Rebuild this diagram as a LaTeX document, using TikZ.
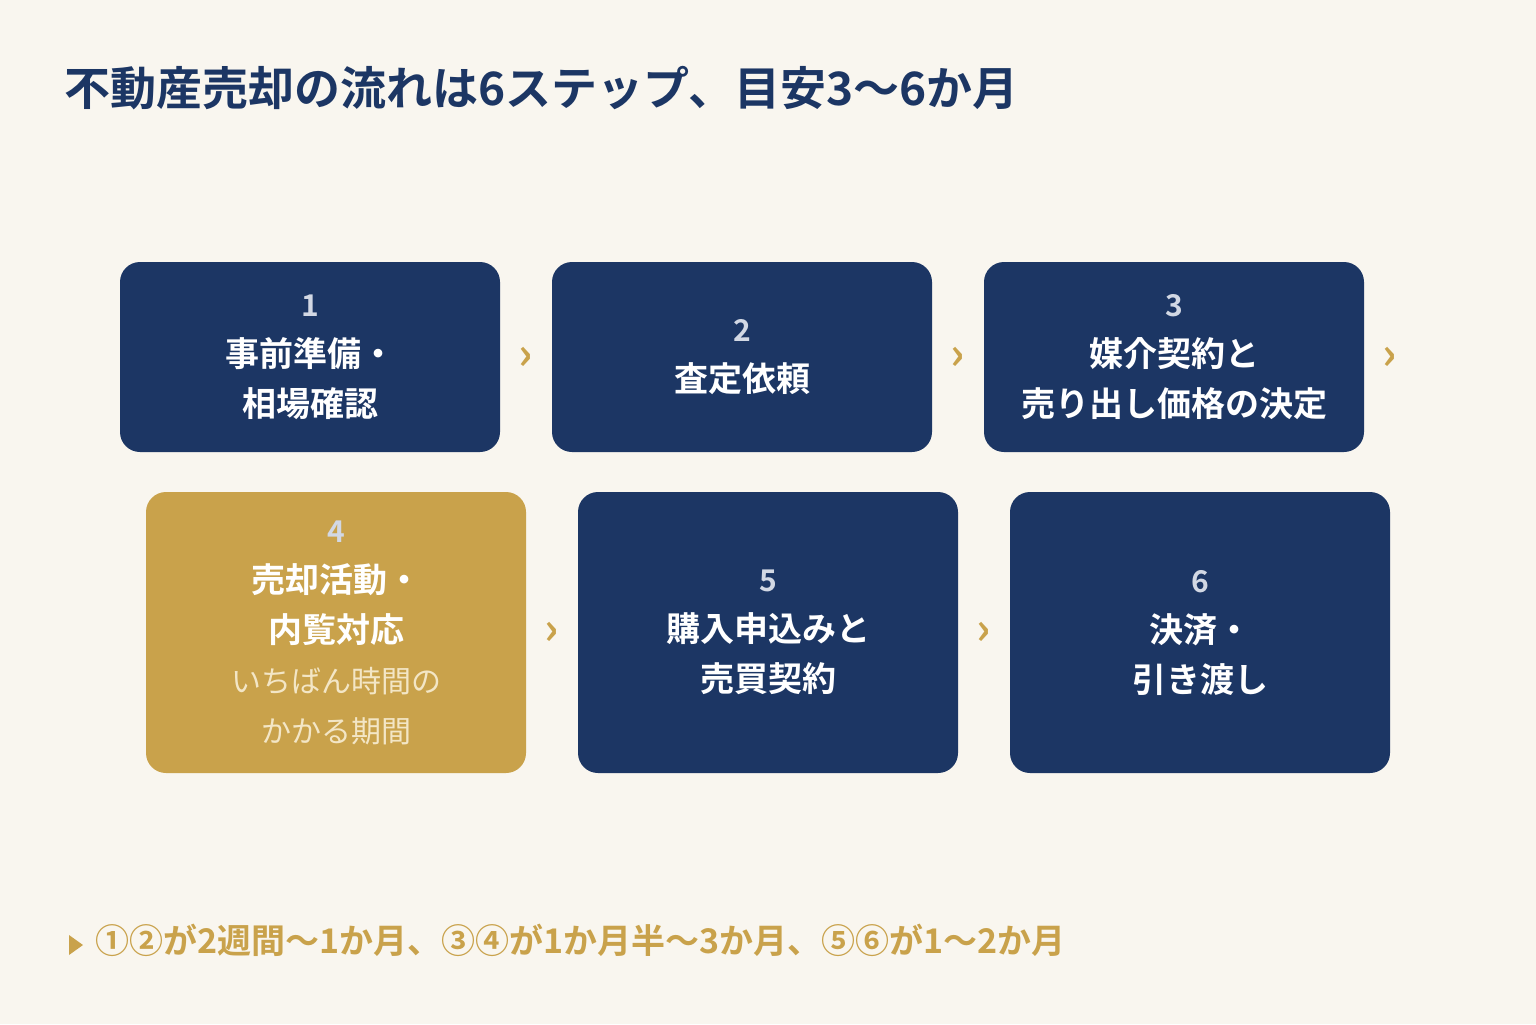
\documentclass[tikz,border=0pt]{standalone}
\usepackage{fontspec}
\setmainfont{Noto Sans CJK JP}[BoldFont={Noto Sans CJK JP Bold}]
\definecolor{navy}{HTML}{1C3664}
\definecolor{gold}{HTML}{C9A24B}
\definecolor{bg}{HTML}{F9F6EF}
\definecolor{num}{HTML}{D2D8E4}
\definecolor{sub}{HTML}{F3E6C6}
\begin{document}
\begin{tikzpicture}[x=0.5pt,y=-0.5pt,
  box/.style={rounded corners=10pt,minimum width=190pt,align=center,text=white,font=\bfseries\fontsize{17}{25}\selectfont,inner sep=0pt},
  chev/.style={text=gold,font=\bfseries\fontsize{22}{22}\selectfont,inner sep=0pt}]
\fill[bg] (0,0) rectangle (1536,1024);
\useasboundingbox (0,0) rectangle (1536,1024);
\node[anchor=west,text=navy,font=\bfseries\fontsize{23}{23}\selectfont,inner sep=0pt] (title) at (64,88) {不動産売却の流れは6ステップ、目安3〜6か月};
\newcommand{\nm}[1]{{\color{num}\fontsize{15}{22}\selectfont #1}}
\newcommand{\sbt}[1]{{\color{sub}\mdseries\fontsize{15}{21}\selectfont #1}}
\node[box,fill=navy,minimum height=95pt] (b1) at (310,357) {\nm{1}\\事前準備・\\相場確認};
\node[box,fill=navy,minimum height=95pt] (b2) at (742,357) {\nm{2}\\査定依頼};
\node[box,fill=navy,minimum height=95pt] (b3) at (1174,357) {\nm{3}\\媒介契約と\\売り出し価格の決定};
\node[box,fill=gold,minimum height=140.5pt] (b4) at (336,632.5) {\nm{4}\\売却活動・\\内覧対応\\\sbt{いちばん時間の}\\\sbt{かかる期間}};
\node[box,fill=navy,minimum height=140.5pt] (b5) at (768,632.5) {\nm{5}\\購入申込みと\\売買契約};
\node[box,fill=navy,minimum height=140.5pt] (b6) at (1200,632.5) {\nm{6}\\決済・\\引き渡し};
\node[chev] (c1) at (526,358) {›};
\node[chev] (c2) at (958,358) {›};
\node[chev] (c3) at (1390,358) {›};
\node[chev] (c4) at (552,633) {›};
\node[chev] (c5) at (984,633) {›};
\fill[gold] (69,935) -- (83,945) -- (69,955) -- cycle;
\node[anchor=west,text=gold,font=\bfseries\fontsize{17}{17}\selectfont,inner sep=0pt] (note) at (95,940) {①②が2週間〜1か月、③④が1か月半〜3か月、⑤⑥が1〜2か月};
\end{tikzpicture}
\end{document}
